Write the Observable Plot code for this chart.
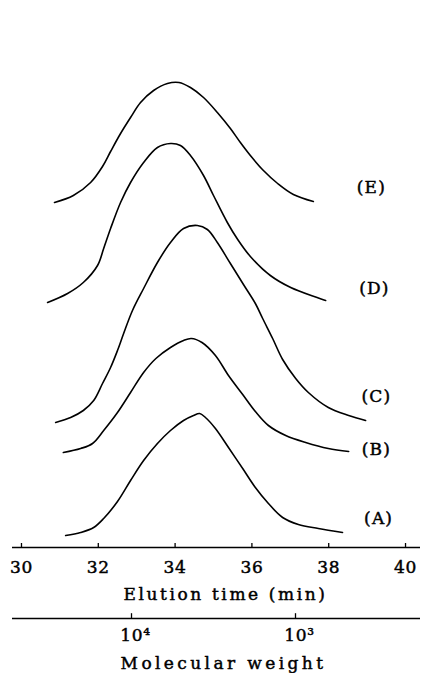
<!DOCTYPE html>
<html><head><meta charset="utf-8">
<script src="https://cdn.jsdelivr.net/npm/d3@7"></script>
<script src="https://cdn.jsdelivr.net/npm/@observablehq/plot@0.6"></script>
<style>
html,body{margin:0;padding:0;background:#fff;}
#chart svg{display:block;}
</style></head><body><div id="chart"></div>
<script>
// Elution profiles (stacked, relative absorbance units)
const timeA = [31.15, 31.54, 31.88, 32.14, 32.50, 32.84, 33.18, 33.54, 33.88, 34.22, 34.48, 34.64, 34.79, 35.05, 35.39, 35.76, 36.09, 36.43, 36.80, 37.21, 37.73, 38.36];
const valueA = [0.24, 0.30, 0.40, 0.58, 0.92, 1.34, 1.74, 2.08, 2.34, 2.54, 2.64, 2.68, 2.60, 2.38, 2.00, 1.58, 1.20, 0.88, 0.60, 0.46, 0.38, 0.30];
const timeB = [31.09, 31.54, 31.85, 32.14, 32.50, 32.84, 33.18, 33.50, 33.88, 34.22, 34.42, 34.70, 35.05, 35.39, 35.76, 36.09, 36.43, 36.88, 37.40, 37.99, 38.52];
const valueB = [1.90, 1.98, 2.08, 2.34, 2.70, 3.10, 3.50, 3.78, 4.00, 4.14, 4.18, 4.10, 3.84, 3.44, 3.06, 2.72, 2.44, 2.24, 2.10, 1.98, 1.92];
const timeC = [30.89, 31.28, 31.61, 31.88, 32.11, 32.32, 32.50, 32.66, 32.89, 33.18, 33.54, 33.88, 34.22, 34.58, 34.84, 35.10, 35.44, 35.78, 36.09, 36.28, 36.54, 36.80, 37.14, 37.47, 37.99, 38.52, 38.96];
const valueC = [2.50, 2.60, 2.74, 2.94, 3.28, 3.60, 3.94, 4.28, 4.74, 5.18, 5.70, 6.10, 6.38, 6.44, 6.36, 6.10, 5.68, 5.26, 4.88, 4.58, 4.18, 3.76, 3.38, 3.10, 2.80, 2.64, 2.54];
const timeD = [30.68, 31.20, 31.61, 31.98, 32.14, 32.32, 32.58, 32.84, 33.18, 33.54, 33.88, 34.14, 34.40, 34.74, 35.00, 35.36, 35.63, 35.96, 36.48, 37.01, 37.92];
const valueD = [4.90, 5.08, 5.30, 5.64, 5.98, 6.38, 6.90, 7.30, 7.70, 8.00, 8.08, 8.04, 7.84, 7.44, 7.04, 6.50, 6.16, 5.82, 5.44, 5.20, 4.94];
const timeE = [30.86, 31.35, 31.80, 32.11, 32.32, 32.58, 32.84, 33.10, 33.44, 33.80, 34.10, 34.40, 34.74, 35.10, 35.44, 35.70, 35.96, 36.30, 36.67, 37.08, 37.60];
const valueE = [6.90, 7.04, 7.30, 7.62, 7.92, 8.28, 8.60, 8.90, 9.14, 9.28, 9.30, 9.20, 9.00, 8.70, 8.38, 8.10, 7.84, 7.54, 7.28, 7.06, 6.92];

const curveNames = ["(A)", "(B)", "(C)", "(D)", "(E)"];
const labelTime = [39.30, 39.24, 39.24, 39.19, 39.11];
const labelValue = [0.58, 1.96, 3.02, 5.18, 7.20];

const timeTicks = [30, 32, 34, 36, 38, 40];
const mwTicks = [10000, 1000];
const mwTickLabels = ["10\u2074", "10\u00B3"];
const xTitle = "Elution time (min)";
const mwTitle = "Molecular weight";

const series = [[timeA, valueA], [timeB, valueB], [timeC, valueC], [timeD, valueD], [timeE, valueE]];
const rows = series.flatMap(([t, v], k) => t.map((ti, i) => ({curve: curveNames[k], time: ti, value: v[i]})));
const labels = curveNames.map((n, i) => ({name: n, time: labelTime[i], value: labelValue[i]}));

const font = "'DejaVu Serif', serif";
const style = {fontFamily: font, fontSize: "17px", background: "white", color: "black"};

const p1 = Plot.plot({
  width: 421, height: 610,
  marginLeft: 12, marginRight: 1, marginTop: 0, marginBottom: 63,
  style,
  x: {domain: [29.766, 40.39]},
  y: {domain: [0, 10.94], axis: null},
  marks: [
    Plot.ruleY([0], {strokeWidth: 1.7}),
    Plot.ruleX(timeTicks, {y1: 0, y2: 0.08, strokeWidth: 1.3}),
    Plot.axisX(timeTicks, {tickSize: 0, tickPadding: 13, fontSize: 17, label: null}),
    Plot.text([xTitle], {frameAnchor: "bottom", text: d => d, dy: 40.5, dx: 9, lineAnchor: "top", fontSize: 17}),
    Plot.line(rows, {x: "time", y: "value", z: "curve", curve: "catmull-rom", strokeWidth: 1.6}),
    Plot.text(labels, {x: "time", y: "value", text: "name", fontSize: 17})
  ]
});

const p2 = Plot.plot({
  width: 421, height: 63,
  marginLeft: 12, marginRight: 1, marginTop: 0, marginBottom: 55,
  style,
  x: {type: "log", domain: [53170, 172.9]},
  y: {domain: [0, 1], axis: null},
  marks: [
    Plot.ruleY([0], {strokeWidth: 1.7}),
    Plot.ruleX(mwTicks, {y1: 0, y2: 0.6, strokeWidth: 1.3}),
    Plot.axisX(mwTicks, {tickSize: 0, tickPadding: 10, fontSize: 17, dx: 4, label: null, tickFormat: d => mwTickLabels[mwTicks.indexOf(d)]}),
    Plot.text([mwTitle], {frameAnchor: "bottom", text: d => d, dy: 38.5, dx: 7, lineAnchor: "top", fontSize: 17})
  ]
});

const el = document.getElementById("chart");
el.append(p1, p2);

d3.selectAll("#chart svg text").each(function() {
  const t = this.textContent;
  let ls = "0.7px";
  if (t === xTitle) ls = "2.6px";
  else if (t === mwTitle) ls = "3.4px";
  else if (curveNames.includes(t)) ls = "1.2px";
  d3.select(this)
    .style("letter-spacing", ls)
    .attr("fill", "black")
    .attr("stroke", "black")
    .attr("stroke-width", 0.45);
});
</script></body></html>
